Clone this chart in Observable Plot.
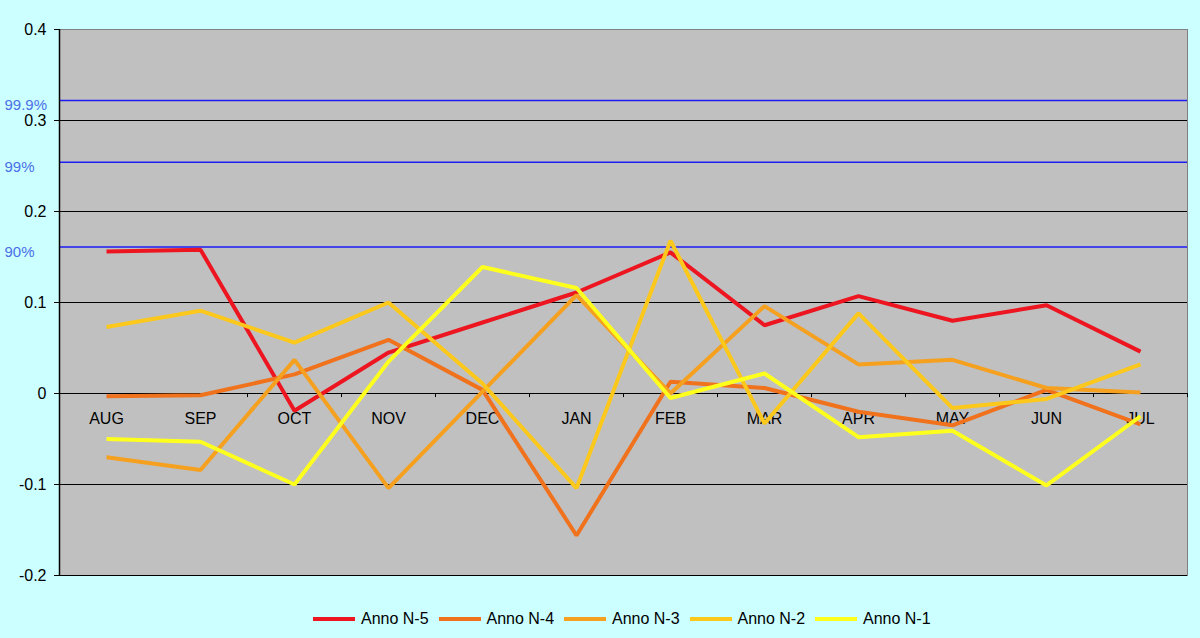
<!DOCTYPE html>
<html><head><meta charset="utf-8">
<script src="https://cdn.jsdelivr.net/npm/d3@7"></script>
<script src="https://cdn.jsdelivr.net/npm/@observablehq/plot@0.6"></script>
<style>
html,body{margin:0;padding:0;background:#ccffff;}
body{width:1200px;height:638px;overflow:hidden;font-family:Arial,"Liberation Sans",sans-serif;}
#chart svg{display:block;}
#legend{height:38px;display:flex;align-items:center;padding-left:313px;font-size:16px;color:#000;box-sizing:border-box;}
.item{display:flex;align-items:center;width:125.5px;flex:none;white-space:nowrap;}
.sw{width:42px;height:4px;margin-right:6px;flex:none;}
</style></head><body>
<div id="chart"></div><div id="legend"></div>
<script>
const months = ["AUG","SEP","OCT","NOV","DEC","JAN","FEB","MAR","APR","MAY","JUN","JUL"];
const seriesNames = ["Anno N-5","Anno N-4","Anno N-3","Anno N-2","Anno N-1"];
const colors = ["#ec1520","#f0721c","#f5a01e","#fcc81c","#ffff1e"];
const annoN5 = [0.156,0.158,-0.019,0.045,0.078,0.111,0.155,0.075,0.107,0.080,0.097,0.046];
const annoN4 = [-0.003,-0.002,0.021,0.059,0.004,-0.156,0.013,0.006,-0.020,-0.035,0.004,-0.034];
const annoN3 = [-0.070,-0.084,0.037,-0.104,0.002,0.108,0.000,0.096,0.032,0.037,0.006,0.001];
const annoN2 = [0.073,0.091,0.056,0.100,0.011,-0.104,0.168,-0.033,0.088,-0.016,-0.006,0.032];
const annoN1 = [-0.050,-0.053,-0.100,0.035,0.139,0.116,-0.005,0.022,-0.048,-0.041,-0.101,-0.025];
const confLabels = ["90%","99%","99.9%"];
const confValues = [0.161,0.254,0.322];
const yTicks = [-0.2,-0.1,0,0.1,0.2,0.3,0.4];

const seriesValues = [annoN5, annoN4, annoN3, annoN2, annoN1];
const data = seriesNames.flatMap((name, s) => months.map((m, i) => ({series: name, month: m, value: seriesValues[s][i]})));
const conf = confLabels.map((l, i) => ({label: l, value: confValues[i]}));

const W = 1200, H = 600, ML = 59, MR = 13, MT = 29, MB = 25;
const step = (W - ML - MR) / months.length;
const last = months[months.length - 1];

const chart = Plot.plot({
  width: W, height: H, marginLeft: ML, marginRight: MR, marginTop: MT, marginBottom: MB,
  style: {background: "#ccffff", fontFamily: "Arial, 'Liberation Sans', sans-serif", fontSize: "16px", color: "#000"},
  x: {type: "band", domain: months, padding: 0, axis: null},
  y: {domain: [-0.2, 0.4], ticks: yTicks, tickSize: 5, tickPadding: 8, label: null,
      tickFormat: d => d === 0 ? "0" : d.toFixed(1)},
  color: {domain: seriesNames, range: colors},
  marks: [
    Plot.frame({fill: "#c0c0c0", stroke: "#808080"}),
    Plot.ruleY(yTicks.filter(d => d < 0.4), {stroke: "#000", strokeWidth: 1}),
    Plot.ruleY(conf, {y: "value", stroke: "#1c1cf5", strokeWidth: 1.5}),
    Plot.ruleX([months[0]], {x: d => d, dx: -step / 2, y1: -0.2, y2: 0.4, stroke: "#000", strokeWidth: 1.5}),
    Plot.ruleX(months, {x: d => d, dx: -step / 2, y1: 0, y2: -0.0045, stroke: "#000"}),
    Plot.ruleX([last], {x: d => d, dx: step / 2, y1: 0, y2: -0.0045, stroke: "#000"}),
    Plot.text(months, {x: d => d, y: 0, dy: 25, text: d => d, fill: "#000", fontSize: 16}),
    Plot.text(conf, {y: "value", text: "label", frameAnchor: "left", dx: -55, dy: 5, textAnchor: "start", fill: "#4a6fe6", fontSize: 15}),
    Plot.line(data, {x: "month", y: "value", z: "series", stroke: "series", strokeWidth: 4,
      strokeLinejoin: "miter", strokeLinecap: "butt"})
  ]
});
document.getElementById("chart").appendChild(chart);

const legend = document.getElementById("legend");
seriesNames.forEach((name, i) => {
  const item = document.createElement("div");
  item.className = "item";
  const sw = document.createElement("span");
  sw.className = "sw";
  sw.style.background = colors[i];
  const t = document.createElement("span");
  t.textContent = name;
  item.appendChild(sw);
  item.appendChild(t);
  legend.appendChild(item);
});
</script>
</body></html>
